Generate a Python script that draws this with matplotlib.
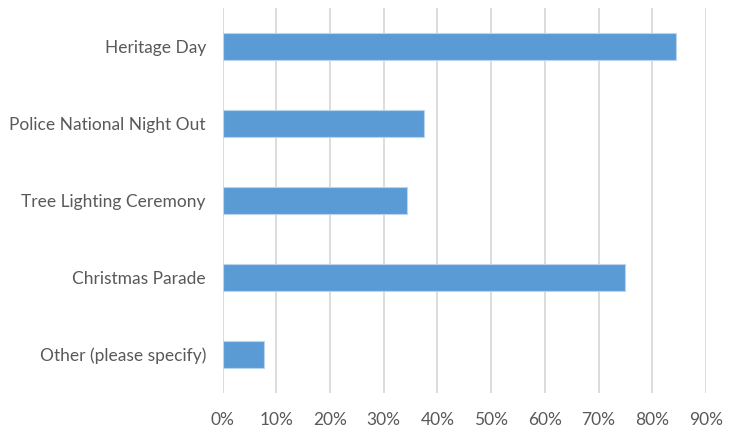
import matplotlib.pyplot as plt
from matplotlib.ticker import PercentFormatter

# Survey responses: share of respondents per event
events = ['Heritage Day', 'Police National Night Out', 'Tree Lighting Ceremony',
          'Christmas Parade', 'Other (please specify)']
shares = [84.4, 37.5, 34.4, 75.0, 7.8]

plt.rcParams['font.family'] = ['Lato', 'DejaVu Sans']

fig = plt.figure(figsize=(7.37, 4.30), dpi=100)
ax = fig.add_axes([0.302, 0.086, 0.656, 0.895])

pos = list(range(len(events)))[::-1]
ax.barh(pos, shares, height=0.35, color='#5B9BD5', edgecolor='#BBD4EE',
        linewidth=0.8, zorder=3)

ax.set_xlim(0, 90)
ax.set_ylim(-0.5, len(events) - 0.5)
ax.set_xticks(range(0, 91, 10))
ax.xaxis.set_major_formatter(PercentFormatter(decimals=0))
ax.set_yticks(pos)
ax.set_yticklabels(events)

ax.grid(axis='x', color='#D9D9D9', linewidth=1.3, zorder=0)
for s in ax.spines.values():
    s.set_visible(False)
ax.tick_params(length=0, labelsize=12.5, colors='#595959')
ax.tick_params(axis='x', pad=14)
ax.tick_params(axis='y', pad=12)

fig.savefig('out.png', dpi=100)
